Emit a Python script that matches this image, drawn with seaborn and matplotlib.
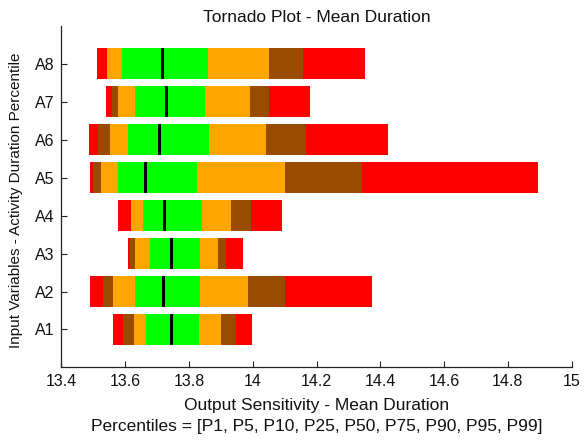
import numpy as np
import pandas as pd
import matplotlib
matplotlib.use("Agg")
import matplotlib.pyplot as plt
import seaborn as sns

# ---- data ----
variables = ["A8", "A7", "A6", "A5", "A4", "A3", "A2", "A1"]
p1  = [13.512, 13.540, 13.488, 13.490, 13.577, 13.610, 13.489, 13.562]
p5  = [13.542, 13.558, 13.516, 13.500, 13.618, 13.616, 13.532, 13.594]
p10 = [13.542, 13.579, 13.552, 13.524, 13.618, 13.631, 13.563, 13.627]
p25 = [13.590, 13.631, 13.608, 13.578, 13.656, 13.678, 13.631, 13.666]
p50 = [13.717, 13.730, 13.707, 13.665, 13.722, 13.744, 13.721, 13.745]
p75 = [13.859, 13.850, 13.863, 13.825, 13.841, 13.835, 13.835, 13.832]
p90 = [14.051, 13.992, 14.041, 14.101, 13.931, 13.891, 13.985, 13.901]
p95 = [14.157, 14.052, 14.166, 14.342, 13.996, 13.915, 14.100, 13.947]
p99 = [14.351, 14.180, 14.423, 14.894, 14.093, 13.969, 14.374, 13.999]
xticks = [13.4, 13.6, 13.8, 14.0, 14.2, 14.4, 14.6, 14.8, 15.0]
xtick_labels = ["13.4", "13.6", "13.8", "14", "14.2", "14.4", "14.6", "14.8", "15"]

RED, BROWN, ORANGE, GREEN = "#FF0000", "#994C00", "#FFA500", "#00FF00"

sns.set_style("ticks", {"xtick.direction": "in", "ytick.direction": "in"})
plt.rcParams["font.family"] = ["Liberation Sans", "DejaVu Sans"]

fig = plt.figure(figsize=(5.84, 4.41), dpi=100)
ax = fig.add_axes([0.105, 0.167, 0.874, 0.774])

segments = [
    (p1, p5, RED), (p5, p10, BROWN), (p10, p25, ORANGE), (p25, p75, GREEN),
    (p75, p90, ORANGE), (p90, p95, BROWN), (p95, p99, RED),
]
bar_h = 0.82
for lo, hi, col in segments:
    lo_a = np.array(lo); hi_a = np.array(hi)
    df = pd.DataFrame({"var": variables, "w": hi_a - lo_a})
    sns.barplot(data=df, x="w", y="var", order=variables, orient="h",
                left=lo_a, color=col, width=bar_h, errorbar=None,
                linewidth=0, saturation=1, ax=ax)

# median markers
med_w = 0.0094
dfm = pd.DataFrame({"var": variables, "w": [med_w] * len(variables)})
sns.barplot(data=dfm, x="w", y="var", order=variables, orient="h",
            left=np.array(p50) - med_w / 2, color="black", width=bar_h,
            errorbar=None, linewidth=0, saturation=1, ax=ax)

ax.set_xlim(13.4, 15.0)
ax.set_ylim(8.0, -1.0)
ax.set_xticks(xticks)
ax.set_xticklabels(xtick_labels)
sns.despine(ax=ax)
for s in ["left", "bottom"]:
    ax.spines[s].set_linewidth(0.9)
    ax.spines[s].set_color("#222222")
ax.tick_params(axis="both", direction="in", length=4.5, width=0.8,
               labelsize=11.5, colors="#222222", labelcolor="#111111", pad=5)

ax.set_xlabel("Output Sensitivity - Mean Duration", fontsize=12.5,
              labelpad=6, color="#111111")
fig.text(0.5 * (0.105 + 0.979), 1 - 426.7 / 441,
         "Percentiles = [P1, P5, P10, P25, P50, P75, P90, P95, P99]",
         fontsize=12.5, ha="center", va="center", color="#111111")
ax.set_ylabel("Input Variables - Activity Duration Percentile", fontsize=11,
              color="#111111", va="center")
ax.yaxis.set_label_coords(16.5 / 584, 1 - 200 / 441, transform=fig.transFigure)
ax.set_title("Tornado Plot - Mean Duration", fontsize=12.5, pad=3, color="#111111")

fig.savefig("out.png", dpi=100)
